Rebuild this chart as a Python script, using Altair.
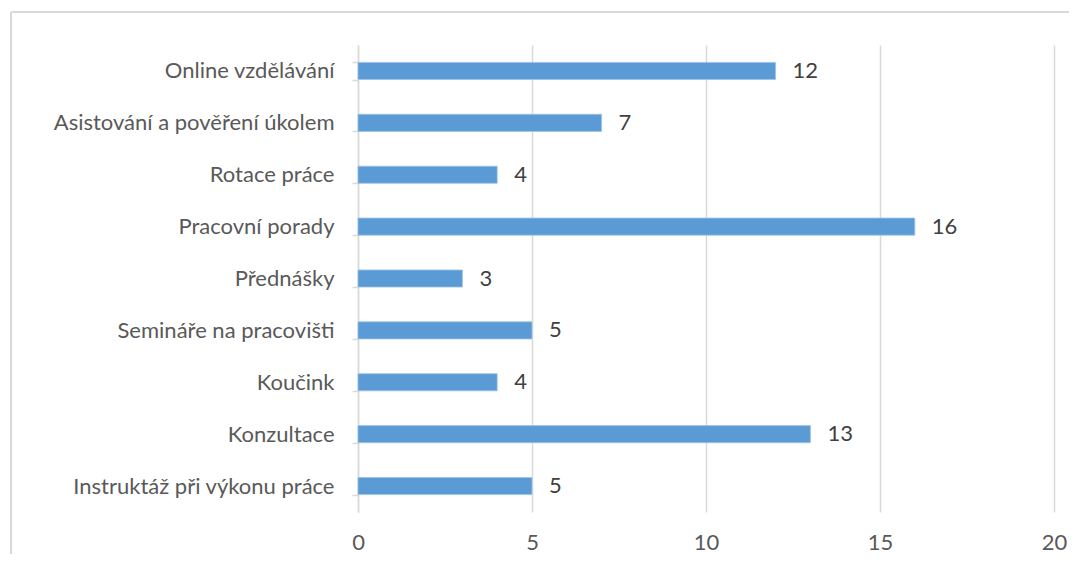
import altair as alt
import pandas as pd

categories = [
    "Online vzdělávání",
    "Asistování a pověření úkolem",
    "Rotace práce",
    "Pracovní porady",
    "Přednášky",
    "Semináře na pracovišti",
    "Koučink",
    "Konzultace",
    "Instruktáž při výkonu práce",
]
values = [12, 7, 4, 16, 3, 5, 4, 13, 5]
x_ticks = [0, 5, 10, 15, 20]

df = pd.DataFrame({"cat": categories, "val": values})

FONT = "Lato"
FS = 22
W, H = 696, 467

y_enc = alt.Y(
    "cat:N",
    sort=categories,
    title=None,
    scale=alt.Scale(paddingInner=0.67, paddingOuter=0.335),
    axis=alt.Axis(
        domainColor="#d9d9d9",
        domainWidth=1.5,
        tickColor="#d9d9d9",
        tickWidth=1.5,
        tickSize=6,
        tickBand="extent",
        labelFont=FONT,
        labelFontSize=FS,
        labelColor="#595959",
        labelPadding=18,
        labelLimit=0,
        grid=False,
    ),
)

x_enc = alt.X(
    "val:Q",
    title=None,
    scale=alt.Scale(domain=[0, 20], nice=False),
    axis=alt.Axis(
        values=x_ticks,
        domain=False,
        ticks=False,
        grid=True,
        gridColor="#d9d9d9",
        gridWidth=1.5,
        labelFont=FONT,
        labelFontSize=FS,
        labelColor="#595959",
        labelPadding=20,
        labelFlush=False,
    ),
)

bars = alt.Chart(df).mark_bar(color="#5b9bd5", stroke="#9dc3e6", strokeWidth=0.8).encode(
    x=x_enc, y=y_enc
)

labels = alt.Chart(df).mark_text(
    align="left", baseline="middle", dx=17, font=FONT, fontSize=FS, color="#404040"
).encode(x="val:Q", y=alt.Y("cat:N", sort=categories), text="val:Q")

frame_left = alt.Chart(df).mark_rule(color="#d9d9d9", strokeWidth=1.5).encode(
    x=alt.value(-347), y=alt.value(-33), y2=alt.value(H + 60)
)
frame_top = alt.Chart(df).mark_rule(color="#d9d9d9", strokeWidth=1.5).encode(
    x=alt.value(-347), x2=alt.value(W + 60), y=alt.value(-33)
)

chart = (
    alt.layer(frame_left, frame_top, bars, labels)
    .properties(
        width=W,
        height=H,
        autosize=alt.AutoSizeParams(type="none"),
        padding={"left": 350, "top": 37, "right": 15, "bottom": 42},
    )
    .configure_view(stroke=None)
)

chart.save("out.html", embed_options={"renderer": "svg", "actions": False})
